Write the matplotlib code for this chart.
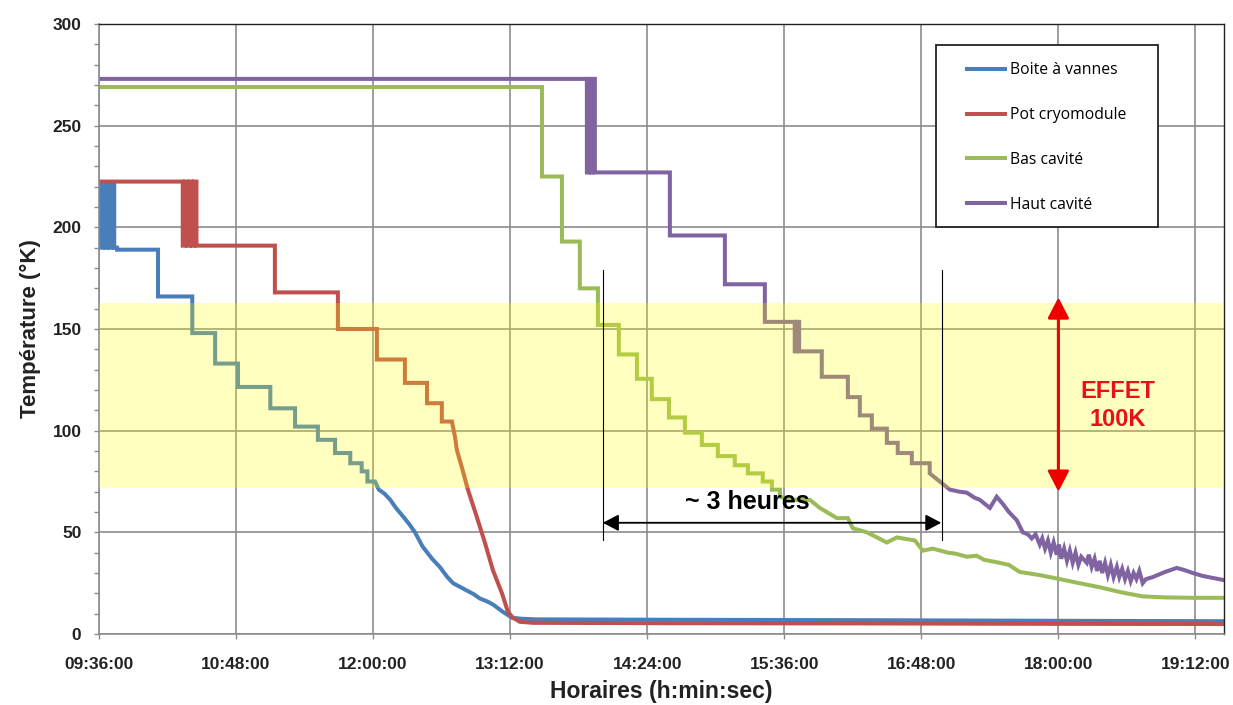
import matplotlib.pyplot as plt
from matplotlib.patches import Rectangle
from matplotlib.ticker import MultipleLocator

# time axis is in minutes after 09:36:00
tick_minutes = [0, 72, 144, 216, 288, 360, 432, 504, 576]
tick_labels = ["09:36:00", "10:48:00", "12:00:00", "13:12:00", "14:24:00",
               "15:36:00", "16:48:00", "18:00:00", "19:12:00"]
x_end = 591

series_names = ["Boite à vannes", "Pot cryomodule", "Bas cavité", "Haut cavité"]
series_colors = ["#4a7ebb", "#c0504d", "#9bbb59", "#8064a2"]

# Boite à vannes
blue_step_t = [0, 0.8, 2, 3.2, 4.4, 5.6, 6.8, 8, 9.5, 31, 49, 61, 73, 90, 103,
               115, 124, 132, 138, 141]
blue_step_v = [221, 190, 221, 190, 221, 190, 221, 190, 189, 166, 148, 133, 121.5,
               111, 102, 95.5, 89, 84, 80, 75]
blue_tail_t = [145, 147, 150, 153, 156, 160, 163, 166, 170, 175, 179, 183, 186,
               190, 193, 197, 200, 204, 207, 212, 217, 222, 230, 300, 400, 500, 591]
blue_tail_v = [75, 71, 69, 66, 62, 57.5, 54, 50, 43, 37, 33, 28, 25, 23, 21.5,
               19.5, 17.5, 16, 14.5, 11, 8, 7.5, 7.2, 7, 6.8, 6.5, 6.3]

# Pot cryomodule
red_step_t = [0, 44, 45.2, 46.4, 47.6, 48.8, 50, 51.2, 52, 92.4, 125.5, 146,
              160.7, 172.3, 180.1]
red_step_v = [222.5, 191, 222.5, 191, 222.5, 191, 222.5, 191, 191, 168, 150, 135,
              123.5, 113.5, 104.5]
red_tail_t = [185.4, 187, 188, 190.6, 193.8, 198.5, 202.7, 206.9, 211.7, 214.8,
              217.4, 221.1, 228, 300, 400, 500, 591]
red_tail_v = [104.5, 97, 90.5, 82, 71, 57.5, 45, 31.5, 20, 11, 8, 6, 5.5, 5.3,
              5.2, 5, 4.9]

# Bas cavité
green_step_t = [0, 232.7, 243.2, 252.6, 262.1, 273.1, 282.6, 290.4, 299.4, 307.8,
                316.7, 325.1, 334, 340.9, 348.7, 353.5, 357.7]
green_step_v = [269, 225, 193, 170, 152, 137.5, 125.5, 115.5, 106.5, 99, 93, 87.5,
                83, 79, 75, 71, 67.5]
green_tail_t = [362.9, 373.4, 378.7, 387.6, 393.4, 396, 403.4, 413.9, 419.1, 428.6,
                432.8, 438, 446, 450, 455.9, 461, 465, 473.2, 478, 483.7, 494,
                504.7, 515, 525.7, 537, 548.3, 560, 575, 591]
green_tail_v = [66, 66, 62, 57, 57, 52, 50, 45, 47.5, 46, 41, 42, 40, 39.5, 38,
                38.5, 36.5, 35, 34, 30.5, 29, 27, 25, 23, 20.5, 18.5, 18, 17.8, 17.8]

# Haut cavité
purple_step_t = [0, 256.3, 257.3, 258.3, 259.3, 260.5, 299.9, 328.8, 349.8, 365.5,
                 366.3, 367.8, 379.7, 393.4, 399.7, 406, 413.9, 419.6, 427, 436.4]
purple_step_v = [273, 227, 273, 227, 273, 227, 196, 172, 153.5, 139, 153.5, 139,
                 126.5, 116.5, 107.5, 101, 94, 89, 84, 79]
purple_tail_t = [441.7, 447, 452, 455.9, 460, 462.7, 468, 471.6, 474.8, 478, 482.1,
                 485.3, 488, 490, 492, 494.2, 495.5, 497, 498.5, 500, 501.5, 503.1,
                 504.3, 505.5, 507, 508.5, 510, 511.5, 513, 514.5, 516, 518.9, 520,
                 521.5, 523, 524.3, 525.7, 527, 528.5, 530, 531.5, 533, 534.7, 536,
                 537.5, 539, 540.5, 542, 543.5, 545, 546.5, 548.3, 550, 553.6, 560,
                 566.2, 570, 574.6, 580, 591]
purple_tail_v = [75, 71, 70, 69.5, 67, 66, 62, 67.5, 64, 60, 56, 50, 49, 47, 49,
                 44, 47, 42, 46, 40, 45, 39, 44, 37, 42, 36, 41, 35, 40, 34, 38, 35,
                 39, 33, 37, 31, 36, 30, 35, 29, 34, 28, 33, 28, 32, 27, 31, 26, 30,
                 27, 31, 25, 27, 28, 30.5, 32.5, 31.5, 30, 28.5, 26.5]

band_low, band_high = 72, 163


def stairs(step_t, step_v, tail_t, tail_v):
    # turn step levels into line vertices, then append the continuous tail
    xs, ys = [step_t[0]], [step_v[0]]
    for i in range(1, len(step_t)):
        xs += [step_t[i], step_t[i]]
        ys += [step_v[i - 1], step_v[i]]
    return xs + tail_t, ys + tail_v


all_series = [
    (blue_step_t, blue_step_v, blue_tail_t, blue_tail_v),
    (red_step_t, red_step_v, red_tail_t, red_tail_v),
    (green_step_t, green_step_v, green_tail_t, green_tail_v),
    (purple_step_t, purple_step_v, purple_tail_t, purple_tail_v),
]

fig = plt.figure(figsize=(12.33, 7.05), dpi=100)
ax = fig.add_axes([99 / 1233, 71 / 705, 1125 / 1233, 610 / 705])

for (st, sv, tt, tv), name, col in zip(all_series, series_names, series_colors):
    xs, ys = stairs(st, sv, tt, tv)
    ax.plot(xs, ys, color=col, lw=2.9, label=name, solid_joinstyle="miter", zorder=2)

# yellow "100K" zone drawn over the curves
ax.axhspan(band_low, band_high, color="yellow", alpha=0.25, lw=0, zorder=3)

ax.set_xlim(0, x_end)
ax.set_ylim(0, 300)
ax.set_xticks(tick_minutes)
ax.set_xticklabels(tick_labels)
ax.yaxis.set_major_locator(MultipleLocator(50))
ax.yaxis.set_minor_locator(MultipleLocator(10))
ax.grid(True, which="major", color="#8c8c8c", lw=1.2)
ax.set_axisbelow(True)

ax.tick_params(axis="both", which="both", direction="out", length=3.6,
               width=1, color="#8c8c8c")
ax.tick_params(axis="x", pad=13)
ax.tick_params(axis="y", pad=9)
for lab in ax.get_xticklabels() + ax.get_yticklabels():
    lab.set_family("Liberation Sans")
    lab.set_fontweight("bold")
    lab.set_fontsize(12.5)
    lab.set_color("#222222")

for side in ["left", "bottom"]:
    ax.spines[side].set_color("#8c8c8c")
    ax.spines[side].set_linewidth(1.2)
for side in ["top", "right"]:
    ax.spines[side].set_color("#222222")
    ax.spines[side].set_linewidth(1.0)

ax.set_xlabel("Horaires (h:min:sec)", family="Liberation Sans", fontweight="bold",
              fontsize=16.5, labelpad=6, color="#222222")
ax.set_ylabel("Température (°K)", family="Liberation Sans", fontweight="bold",
              fontsize=16, labelpad=8, color="#222222")

# "~ 3 heures" annotation
for xv in [264.7, 442.7]:
    ax.plot([xv, xv], [179, 46], color="black", lw=0.8, zorder=4)
ax.annotate("", xy=(442.5, 54.7), xytext=(264.7, 54.7),
            arrowprops=dict(arrowstyle="<|-|>,head_length=0.95,head_width=0.5",
                            mutation_scale=10, color="black", lw=1.3,
                            shrinkA=0, shrinkB=0), zorder=4)
ax.text(340.8, 65, "~ 3 heures", ha="center", va="center", fontsize=18,
        fontweight="bold", family="Liberation Sans", zorder=4)

# "EFFET 100K" annotation
ax.annotate("", xy=(504, 165.5), xytext=(504, 70),
            arrowprops=dict(arrowstyle="<|-|>,head_length=1.25,head_width=0.65",
                            mutation_scale=10, color="#ee0000", lw=2.2,
                            shrinkA=0, shrinkB=0), zorder=4)
ax.text(535, 112.5, "EFFET\n100K", ha="center", va="center", fontsize=17,
        fontweight="bold", family="Liberation Sans", color="#e8101a",
        linespacing=1.3, zorder=4)

# legend with its own frame
ax.add_patch(Rectangle((0.744, 0.6672), 0.1973, 0.2984, transform=ax.transAxes,
                       facecolor="white", edgecolor="#222222", lw=1.3, zorder=5))
leg = ax.legend(loc="upper left", bbox_to_anchor=(0.7716, 0.937), frameon=False,
                borderpad=0, borderaxespad=0, handlelength=2.4,
                handletextpad=0.32, labelspacing=1.83,
                prop={"family": "Open Sans", "size": 11.3})
leg.set_zorder(6)

fig.savefig("out.png", dpi=100)
